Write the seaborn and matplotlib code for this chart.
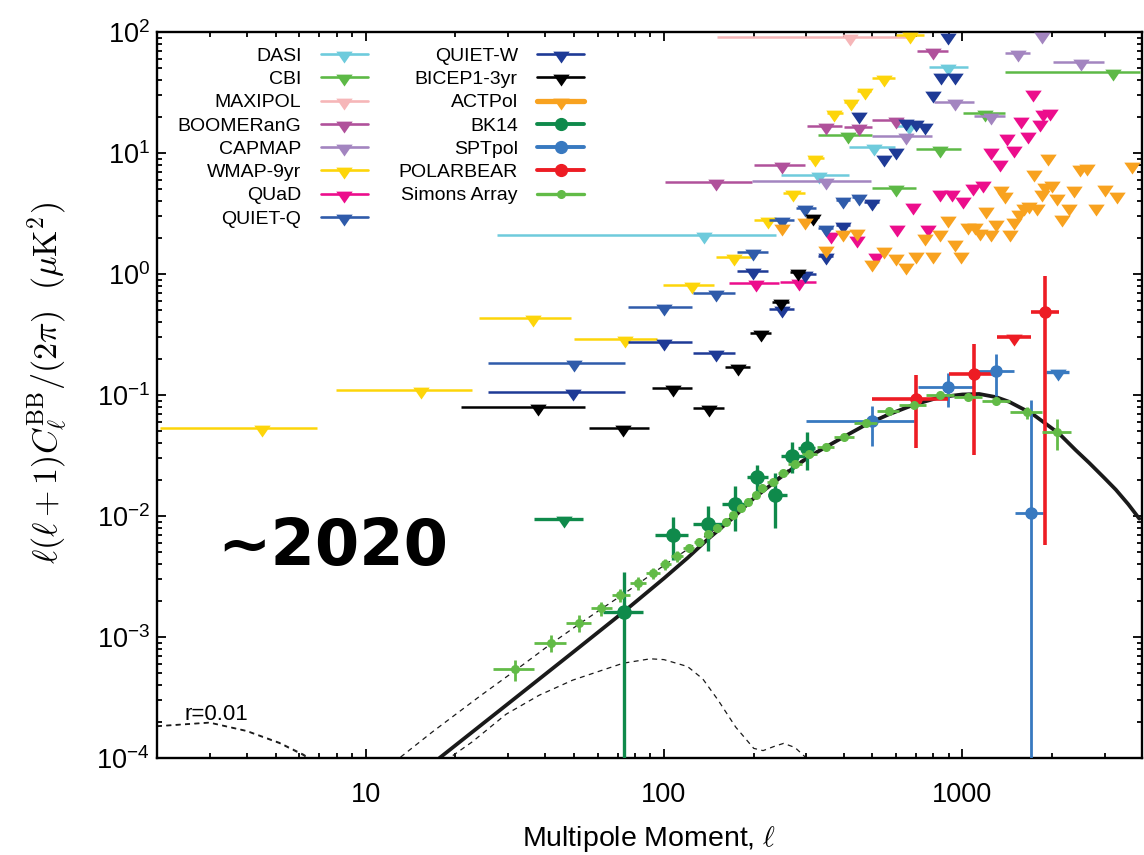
import numpy as np
import matplotlib
matplotlib.use("Agg")
import matplotlib.pyplot as plt
import seaborn as sns
from matplotlib.lines import Line2D
from matplotlib.ticker import (LogLocator, FixedLocator, FuncFormatter,
                               LogFormatterMathtext, NullFormatter)

# ---------------- theory curves ----------------
lens_ell = [17.7, 30, 50, 73, 100, 120, 140, 170, 200, 250, 307, 400, 476, 566,
            687, 842, 1000, 1139, 1300, 1434, 1715, 2110, 2400, 2662, 3000, 3270,
            3600, 3920]
lens_val = [1e-4, 2.8e-4, 7.6e-4, 1.6e-3, 3.05e-3, 4.5e-3, 6.4e-3, 9.6e-3, 1.4e-2,
            2.15e-2, 3.1e-2, 4.5e-2, 5.7e-2, 6.9e-2, 8.3e-2, 9.6e-2, 1.01e-1,
            1.02e-1, 9.6e-2, 8.8e-2, 7.0e-2, 4.8e-2, 3.5e-2, 2.75e-2, 2.05e-2,
            1.65e-2, 1.25e-2, 9.5e-3]

tens_ell = [2, 3, 4, 5.15, 6.2, 7.5, 9, 11, 13, 16, 19.1, 22.8, 29.6, 38.2, 49.5,
            73, 90, 100, 120, 135, 152, 174, 200, 215, 235, 252, 275, 300, 340]
tens_val = [1.82e-4, 1.95e-4, 1.66e-4, 1.32e-4, 1.05e-4, 7.5e-5, 5.5e-5, 4.5e-5,
            5e-5, 7e-5, 1e-4, 1.36e-4, 2.3e-4, 3.3e-4, 4.4e-4, 6.07e-4, 6.6e-4,
            6.5e-4, 5.7e-4, 4.5e-4, 3.0e-4, 1.8e-4, 1.2e-4, 1.15e-4, 1.25e-4,
            1.32e-4, 1.22e-4, 1e-4, 6e-5]

tot_ell = [2, 3, 4, 5.15, 6.2, 7.5, 9, 11, 13, 16.8, 24, 31.8, 41.9, 52, 62, 72, 82,
           100, 120, 140, 170, 200, 250, 307, 400, 476, 566, 687, 842, 1000]
tot_val = [1.84e-4, 1.97e-4, 1.68e-4, 1.34e-4, 1.07e-4, 7.8e-5, 6.5e-5, 7.5e-5,
           1e-4, 1.65e-4, 3.2e-4, 5.3e-4, 8.8e-4, 1.28e-3, 1.72e-3, 2.2e-3, 2.75e-3,
           3.9e-3, 5.3e-3, 7.0e-3, 1.0e-2, 1.45e-2, 2.23e-2, 3.2e-2, 4.5e-2,
           5.8e-2, 7.0e-2, 8.35e-2, 9.7e-2, 1.02e-1]

# ---------------- upper limits: ell, value, bin low, bin high ----------------
dasi_ell = [136, 332, 504, 663, 899]
dasi_val = [2.1, 6.58, 11.3, 16.7, 51]
dasi_lo = [27.5, 247, 418, 601, 774]
dasi_hi = [237, 418, 593, 674, 1047]

cbi_ell = [414, 598, 843, 1190, 3194]
cbi_val = [14.1, 5.1, 10.7, 21.5, 47]
cbi_lo = [329, 499, 700, 1002, 1395]
cbi_hi = [499, 700, 993, 1390, 3945]

maxipol_ell = [420]
maxipol_val = [91.5]
maxipol_lo = [151]
maxipol_hi = [655]

boom_ell = [149, 248, 348, 449, 598, 796]
boom_val = [5.8, 7.96, 16.7, 16.3, 18.7, 70]
boom_lo = [101, 201, 302, 402, 499, 705]
boom_hi = [198, 297, 396, 499, 637, 893]

capmap_ell = [348, 646, 946, 1244, 1543, 2493, 1845]
capmap_val = [5.9, 13.8, 26.5, 20.2, 66.7, 56.9, 94.5]
capmap_lo = [198, 499, 802, 1092, 1395, 2010, 1845]
capmap_hi = [496, 791, 1092, 1390, 1691, 2979, 1845]

wmap_ell = [4.5, 15.4, 36.4, 73.9, 124, 172, 224, 271, 322, 372, 424, 471, 548, 670]
wmap_val = [0.0533, 0.11, 0.43, 0.29, 0.81, 1.37, 2.79, 4.64, 9.04, 21.5, 26.5,
            32.7, 41.4, 94.5]
wmap_lo = [2.04, 7.98, 24, 50, 99.6, 150, 201, 250, 303, 352, 402, 445, 499, 601]
wmap_hi = [6.9, 22.8, 48.8, 95, 147, 196, 250, 297, 345, 397, 445, 495, 593, 746]

quad_ell = [204, 283, 364, 444, 513, 606, 683, 767, 843, 924, 1007, 1083, 1174,
            1251, 1336, 1415, 1495, 1574, 1657, 1730, 1816, 1870, 1971]
quad_val = [0.838, 0.864, 2.1, 1.93, 1.41, 2.41, 3.65, 2.41, 4.7, 4.7, 4.09, 5.2,
            5.54, 10.3, 8.2, 13.6, 10.7, 18.7, 14.1, 31.1, 17.6, 21.5, 21.9]
quad_lo = [165, 245] + quad_ell[2:]
quad_hi = [243, 324] + quad_ell[2:]

quietq_ell = [50, 100, 150, 199, 248, 297, 348, 398, 449]
quietq_val = [0.183, 0.537, 0.70, 1.53, 2.79, 3.49, 2.39, 4.09, 4.35]
quietq_lo = [25.8, 76, 125.6, 176, 225, 277, 329, 376, 426]
quietq_hi = [74.3, 124, 173.6, 223, 272, 324, 369, 422, 470]

quietw_ell = [49.5, 100, 150, 199, 248, 297, 348, 398, 499, 449, 548, 598, 646,
              700, 752, 796, 849, 946, 899]
quietw_val = [0.106, 0.276, 0.221, 1.06, 0.51, 1.0, 1.41, 2.54, 3.96, 20.6, 9.04,
              10.3, 18.2, 17.6, 16.7, 30.7, 43.3, 43.3, 92.7]
quietw_lo = [25.8, 76, 125.6, 176, 225, 277, 329, 376, 470] + quietw_ell[9:]
quietw_hi = [74.3, 124, 173.6, 223, 272, 324, 369, 422, 527] + quietw_ell[9:]

bicep_ell = [37.8, 72.8, 107, 142, 177, 211, 247, 281, 315]
bicep_val = [0.080, 0.0537, 0.114, 0.0776, 0.171, 0.323, 0.59, 1.04, 2.98]
bicep_lo = [20.9, 56, 91, 125.6, 160, 195, 230, 265, 300]
bicep_hi = [54.6, 89.3, 124, 158.6, 195, 228, 263, 298, 332]

act_ell = [248, 297, 348, 398, 445, 497, 547, 601, 646, 700, 749, 796, 843, 899,
           946, 993, 1047, 1099, 1148, 1197, 1244, 1295, 1343, 1395, 1445, 1495,
           1553, 1611, 1676, 1740, 1780, 1845, 1890, 1937, 1995, 2070, 2160, 2274,
           2366, 2478, 2624, 2810, 3003, 3303, 3706]
act_val = [2.43, 2.76, 1.6, 2.17, 2.24, 1.24, 1.58, 1.37, 1.16, 1.44, 2.01, 1.44,
           2.17, 2.83, 1.81, 1.44, 2.49, 2.49, 2.24, 3.38, 2.17, 2.62, 5.0, 4.5,
           2.17, 2.76, 3.18, 3.6, 3.72, 6.87, 3.56, 4.7, 5.3, 9.3, 5.6, 4.35, 2.88,
           3.56, 5.0, 7.47, 7.6, 3.6, 5.1, 4.5, 7.95]

bk_ul_ell = [46.4]
bk_ul_val = [0.0094]
bk_ul_lo = [36.8]
bk_ul_hi = [53.5]

spt_ul_ell = [2088]
spt_ul_val = [0.156]
spt_ul_lo = [1910]
spt_ul_hi = [2280]

pb_ul_ell = [1493]
pb_ul_val = [0.303]
pb_ul_lo = [1303]
pb_ul_hi = [1699]

# ---------------- detections ----------------
bk_ell = [73.4, 107, 140, 173, 205, 236, 268, 302]
bk_val = [1.62e-3, 6.97e-3, 8.6e-3, 1.26e-2, 2.09e-2, 1.49e-2, 3.15e-2, 3.62e-2]
bk_lo = [62.3, 93.2, 125.6, 157, 190, 223, 246, 281]
bk_hi = [85.4, 120.5, 157, 190, 223, 259, 297, 322]
bk_ylo = [1e-6, 4.33e-3, 5.17e-3, 7.56e-3, 1.44e-2, 7.9e-3, 2.25e-2, 2.4e-2]
bk_yhi = [3.43e-3, 9.86e-3, 1.22e-2, 1.77e-2, 2.63e-2, 2.25e-2, 4.11e-2, 4.92e-2]

spt_ell = [499, 898, 1297, 1699]
spt_val = [0.0613, 0.116, 0.159, 0.0105]
spt_lo = [299, 708, 1097, 1500]
spt_hi = [690, 1083, 1493, 1866]
spt_ylo = [0.0381, 0.0800, 0.098, 1e-6]
spt_yhi = [0.0812, 0.153, 0.218, 0.091]

pb_ell = [700, 1097, 1893]
pb_val = [0.092, 0.149, 0.488]
pb_lo = [500, 904, 1699]
pb_hi = [893, 1297, 2102]
pb_ylo = [0.0363, 0.0319, 0.00576]
pb_yhi = [0.146, 0.264, 0.963]

sa_ell = [31.8, 41.9, 51.9, 61.6, 71.5, 81.7, 91.6, 101, 111, 121, 131, 141, 151,
          161, 171, 181, 191, 203, 214, 232, 250, 274, 307, 349, 402, 476, 566,
          687, 842, 1042, 1302, 1647, 2076]
sa_val = [5.4e-4, 8.9e-4, 1.31e-3, 1.73e-3, 2.22e-3, 2.78e-3, 3.36e-3, 4.0e-3,
          4.67e-3, 5.4e-3, 6.1e-3, 7.1e-3, 8.0e-3, 9.0e-3, 1.02e-2, 1.16e-2,
          1.31e-2, 1.49e-2, 1.69e-2, 1.92e-2, 2.25e-2, 2.69e-2, 3.23e-2, 3.74e-2,
          4.47e-2, 5.83e-2, 7.42e-2, 8.27e-2, 1.0e-1, 9.68e-2, 8.97e-2, 7.19e-2,
          4.92e-2]
sa_edges = [26.8, 36.8, 46.8, 56.8, 66.8, 76.8, 86.8, 96.8, 106, 116, 126, 136, 146,
            156, 166, 176, 186, 197, 209, 222, 242, 260, 290, 325, 372, 432, 519,
            615, 753, 936, 1160, 1450, 1850, 2320]
sa_yerr = [1.05e-4, 1.4e-4, 2.1e-4, 2.3e-4, 2.7e-4, 3.5e-4, 3.6e-4, 4.2e-4, 5e-4,
           4e-4, 4e-4, 4.5e-4, 5e-4, 5e-4, 5.5e-4, 6e-4, 6.5e-4, 7e-4, 8e-4, 9e-4,
           1e-3, 1.2e-3, 1.3e-3, 1.5e-3, 1.8e-3, 2.2e-3, 2.8e-3, 3e-3, 3.5e-3,
           3.5e-3, 4e-3, 8e-3, 1.4e-2]

colors = {
    "DASI": "#6ECBDC", "CBI": "#5DB946", "MAXIPOL": "#F6B6B8",
    "BOOMERanG": "#B0519B", "CAPMAP": "#A385C0", "WMAP-9yr": "#FDD50A",
    "QUaD": "#EC0D8C", "QUIET-Q": "#2F5BAA", "QUIET-W": "#1E3A96",
    "BICEP1-3yr": "#000000", "ACTPol": "#F8A21F", "BK14": "#0F8A4B",
    "SPTpol": "#3879C0", "POLARBEAR": "#ED1C24", "Simons Array": "#62BB47",
}

# ---------------- style ----------------
sns.set_theme(style="ticks")
plt.rcParams["font.family"] = ["Liberation Sans", "DejaVu Sans"]
plt.rcParams["axes.linewidth"] = 1.7
plt.rcParams["axes.edgecolor"] = "black"
plt.rcParams["xtick.color"] = "black"
plt.rcParams["ytick.color"] = "black"
plt.rcParams["text.color"] = "black"
plt.rcParams["axes.labelcolor"] = "black"

fig = plt.figure(figsize=(11.44, 8.55), dpi=100)
ax = fig.add_axes([0.1372, 0.1135, 0.861, 0.849])
ax.set_xscale("log")
ax.set_yscale("log")

# theory
sns.lineplot(x=tens_ell, y=tens_val, ax=ax, color="k", lw=0.9, ls=(0, (4, 3.5)),
             sort=False, estimator=None, zorder=2)
sns.lineplot(x=tot_ell, y=tot_val, ax=ax, color="k", lw=0.9, ls=(0, (4, 3.5)),
             sort=False, estimator=None, zorder=2)
sns.lineplot(x=lens_ell, y=lens_val, ax=ax, color="k", lw=2.7,
             sort=False, estimator=None, zorder=2)

ul_marker = [(-1, 0.35), (1, 0.35), (0, -1.1)]


def upper_limits(ell, val, lo, hi, color, lw=1.8, ms=13):
    ell = np.asarray(ell, float)
    xerr = [ell - np.asarray(lo, float), np.asarray(hi, float) - ell]
    ax.errorbar(ell, val, xerr=xerr, fmt="none", ecolor=color, elinewidth=lw,
                capsize=0, zorder=3)
    ax.plot(ell, val, ls="none", marker=ul_marker, ms=ms, color=color, mew=0,
            zorder=3)


def detections(ell, val, lo, hi, ylo, yhi, color, ms, lw, z=4):
    ell = np.asarray(ell, float)
    val = np.asarray(val, float)
    ax.errorbar(ell, val,
                xerr=[ell - np.asarray(lo), np.asarray(hi) - ell],
                yerr=[val - np.asarray(ylo), np.asarray(yhi) - val],
                fmt="o", ms=ms, color=color, mec=color, elinewidth=lw,
                capsize=0, zorder=z)


upper_limits(dasi_ell, dasi_val, dasi_lo, dasi_hi, colors["DASI"])
upper_limits(cbi_ell, cbi_val, cbi_lo, cbi_hi, colors["CBI"])
upper_limits(maxipol_ell, maxipol_val, maxipol_lo, maxipol_hi, colors["MAXIPOL"])
upper_limits(boom_ell, boom_val, boom_lo, boom_hi, colors["BOOMERanG"])
upper_limits(capmap_ell, capmap_val, capmap_lo, capmap_hi, colors["CAPMAP"])
upper_limits(wmap_ell, wmap_val, wmap_lo, wmap_hi, colors["WMAP-9yr"])
upper_limits(quad_ell, quad_val, quad_lo, quad_hi, colors["QUaD"])
upper_limits(quietq_ell, quietq_val, quietq_lo, quietq_hi, colors["QUIET-Q"])
upper_limits(quietw_ell, quietw_val, quietw_lo, quietw_hi, colors["QUIET-W"])
upper_limits(bicep_ell, bicep_val, bicep_lo, bicep_hi, colors["BICEP1-3yr"])
upper_limits(act_ell, act_val, act_ell, act_ell, colors["ACTPol"])
upper_limits(bk_ul_ell, bk_ul_val, bk_ul_lo, bk_ul_hi, colors["BK14"], lw=2.4)
upper_limits(spt_ul_ell, spt_ul_val, spt_ul_lo, spt_ul_hi, colors["SPTpol"], lw=2.4)
upper_limits(pb_ul_ell, pb_ul_val, pb_ul_lo, pb_ul_hi, colors["POLARBEAR"], lw=2.6)

detections(bk_ell, bk_val, bk_lo, bk_hi, bk_ylo, bk_yhi, colors["BK14"], 9.5, 2.4)
detections(spt_ell, spt_val, spt_lo, spt_hi, spt_ylo, spt_yhi, colors["SPTpol"], 8, 2.0)
detections(pb_ell, pb_val, pb_lo, pb_hi, pb_ylo, pb_yhi, colors["POLARBEAR"], 8, 2.6)

sa_edges_a = np.asarray(sa_edges)
detections(sa_ell, sa_val, sa_edges_a[:-1], sa_edges_a[1:],
           np.asarray(sa_val) - np.asarray(sa_yerr),
           np.asarray(sa_val) + np.asarray(sa_yerr),
           colors["Simons Array"], 5.5, 2.0, z=5)

# ---------------- axes ----------------
ax.set_xlim(2, 4000)
ax.set_ylim(1e-4, 1e2)
ax.xaxis.set_major_locator(FixedLocator([10, 100, 1000]))
ax.xaxis.set_major_formatter(FuncFormatter(lambda v, p: f"{v:g}"))
ax.xaxis.set_minor_locator(LogLocator(base=10, subs=np.arange(2, 10), numticks=20))
ax.xaxis.set_minor_formatter(NullFormatter())
ax.yaxis.set_major_locator(FixedLocator([1e-4, 1e-3, 1e-2, 1e-1, 1, 10, 100]))
ax.yaxis.set_major_formatter(LogFormatterMathtext())
ax.yaxis.set_minor_locator(LogLocator(base=10, subs=np.arange(2, 10), numticks=20))
ax.yaxis.set_minor_formatter(NullFormatter())

ax.tick_params(which="both", direction="in", top=True, right=True, width=1.3)
ax.tick_params(which="major", length=6.5, labelsize=19.5)
ax.tick_params(which="minor", length=3.6)
ax.tick_params(axis="x", which="major", pad=17)
ax.tick_params(axis="y", which="major", pad=5)

ax.set_ylabel(r"$\ell(\ell+1)C_\ell^{\rm BB}/(2\pi)\ \ (\mu{\rm K}^2)$",
              fontsize=24.5, math_fontfamily="cm", va="center")
ax.yaxis.set_label_coords(-0.1107, 0.5165)
ax.set_xlabel(r"Multipole Moment, $\ell$", fontsize=20.5, math_fontfamily="cm",
              labelpad=12)

ax.text(0.1787, 0.2906, "~2020", transform=ax.transAxes, ha="center", va="center",
        fontsize=46, fontweight="bold", family="DejaVu Sans", color="black",
        zorder=6)
ax.text(0.028, 0.052, "r=0.01", transform=ax.transAxes, fontsize=16)

# ---------------- legend ----------------
names = list(colors.keys())
handles = []
for n in names:
    if n in ("BK14", "SPTpol", "POLARBEAR"):
        h = Line2D([0], [0], color=colors[n], lw=2.8, marker="o", ms=8.5)
    elif n == "Simons Array":
        h = Line2D([0], [0], color=colors[n], lw=2.4, marker="o", ms=5.5)
    elif n == "ACTPol":
        h = Line2D([0], [0], color=colors[n], lw=3.8, marker=ul_marker, ms=13, mew=0)
    else:
        h = Line2D([0], [0], color=colors[n], lw=1.9, marker=ul_marker, ms=13, mew=0)
    handles.append(h)

ax.legend(handles, names, ncol=2, markerfirst=False, frameon=False,
          loc="upper left", bbox_to_anchor=(0.021, 0.979), fontsize=14,
          handlelength=2.4, handletextpad=1.0, columnspacing=1.6,
          labelspacing=0.29, borderaxespad=0, borderpad=0)

fig.savefig("out.png", dpi=100)
